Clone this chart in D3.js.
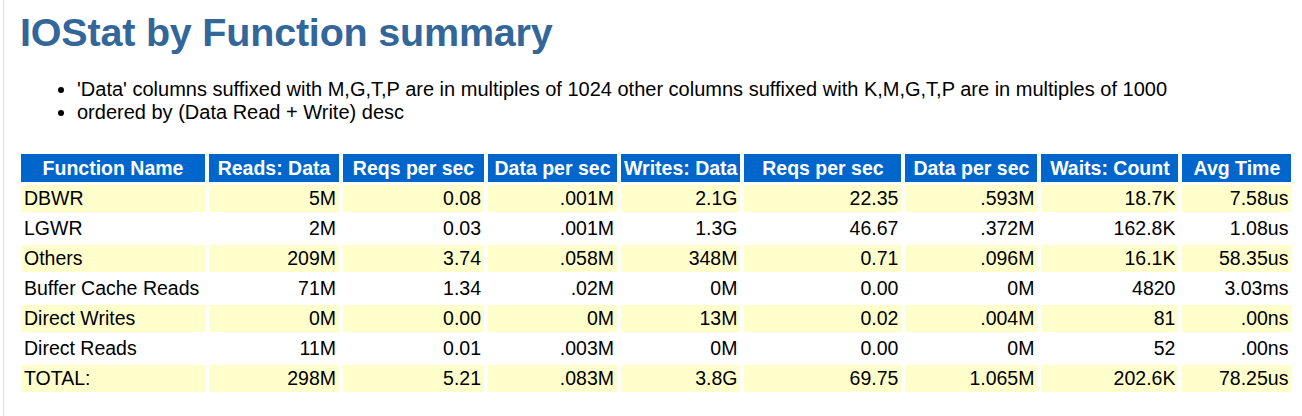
<!DOCTYPE html>
<html><head><meta charset="utf-8">
<script src="https://cdn.jsdelivr.net/npm/d3@7"></script>
<style>
body { margin:0; width:1302px; height:416px; background:#fff; font-family:"Liberation Sans",Arial,sans-serif; overflow:hidden; }
#frame { position:absolute; left:3px; top:0; width:1px; height:416px; background:#ddd; }
h1 { position:absolute; left:20px; top:10px; margin:0; font-size:39.5px; font-weight:bold; color:#336699; letter-spacing:-0.2px; }
ul { position:absolute; left:57px; top:78px; margin:0; padding:0 0 0 20px; font-size:20px; line-height:23px; color:#000; }
table { position:absolute; left:17px; top:151px; border-collapse:separate; border-spacing:4px 3px; table-layout:fixed; font-size:19.5px; }
th { background:#0066cc; color:#fff; font-weight:bold; height:28px; padding:0 3px; white-space:nowrap; text-align:center; }
td { height:27px; padding:0 3px; white-space:nowrap; text-align:right; }
td.name { text-align:left; }
tr.odd td { background:#ffffcc; }
</style></head>
<body>
<div id="frame"></div>
<h1>IOStat by Function summary</h1>
<ul id="notes"></ul>
<table id="tbl"></table>
<script>
var notes = ["'Data' columns suffixed with M,G,T,P are in multiples of 1024 other columns suffixed with K,M,G,T,P are in multiples of 1000",
	"ordered by (Data Read + Write) desc"];
var headers = ["Function Name", "Reads: Data", "Reqs per sec", "Data per sec", "Writes: Data", "Reqs per sec", "Data per sec", "Waits: Count", "Avg Time"];
var colWidths = [184, 130, 141, 129, 111, 157, 132, 137, 109];
var functions = ["DBWR", "LGWR", "Others", "Buffer Cache Reads", "Direct Writes", "Direct Reads", "TOTAL:"];
var readsData = ["5M", "2M", "209M", "71M", "0M", "11M", "298M"];
var readReqs = ["0.08", "0.03", "3.74", "1.34", "0.00", "0.01", "5.21"];
var readPerSec = [".001M", ".001M", ".058M", ".02M", "0M", ".003M", ".083M"];
var writesData = ["2.1G", "1.3G", "348M", "0M", "13M", "0M", "3.8G"];
var writeReqs = ["22.35", "46.67", "0.71", "0.00", "0.02", "0.00", "69.75"];
var writePerSec = [".593M", ".372M", ".096M", "0M", ".004M", "0M", "1.065M"];
var waitCount = ["18.7K", "162.8K", "16.1K", "4820", "81", "52", "202.6K"];
var avgTime = ["7.58us", "1.08us", "58.35us", "3.03ms", ".00ns", ".00ns", "78.25us"];

d3.select("#notes").selectAll("li").data(notes).enter().append("li").text(function(d) { return d; });

var table = d3.select("#tbl");
table.append("colgroup").selectAll("col").data(colWidths).enter().append("col")
	.style("width", function(d) { return d + "px"; });

table.append("tr").selectAll("th").data(headers).enter().append("th").text(function(d) { return d; });

var rows = functions.map(function(f, i) {
	return [f, readsData[i], readReqs[i], readPerSec[i], writesData[i], writeReqs[i], writePerSec[i], waitCount[i], avgTime[i]];
});

table.selectAll("tr.row").data(rows).enter().append("tr")
	.attr("class", function(d, i) { return i % 2 === 0 ? "row odd" : "row"; })
	.selectAll("td").data(function(d) { return d; }).enter().append("td")
	.attr("class", function(d, i) { return i === 0 ? "name" : null; })
	.text(function(d) { return d; });
</script>
</body></html>
